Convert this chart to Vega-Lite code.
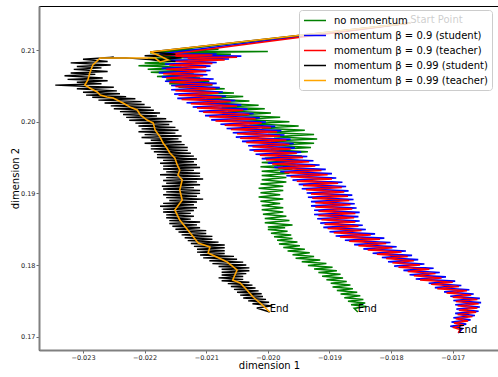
{
"$schema": "https://vega.github.io/schema/vega-lite/v6.json",
"width": 460, "height": 344,
"autosize": {"type": "none"},
"padding": {"left": 39, "top": 6, "right": 0, "bottom": 27},
"config": {
 "font": "DejaVu Sans",
 "view": {"stroke": "#000000", "strokeWidth": 1},
 "axis": {"domainColor": "#808080", "domainWidth": 2, "tickColor": "#444444", "tickSize": 3, "tickWidth": 0.8, "labelFontSize": 6.5, "labelColor": "#222222", "grid": false, "titleFontSize": 10, "titleFontWeight": "normal", "titleColor": "#000000", "labelFont": "DejaVu Sans", "titleFont": "DejaVu Sans"}
},
"datasets": {
 "lines": [
{"s":"a","x":-0.01769,"y":0.21377},{"s":"a","x":-0.02191,"y":0.20958},{"s":"a","x":-0.0208,"y":0.2101},{"s":"a","x":-0.0217,"y":0.2099},{"s":"a","x":-0.02,"y":0.2098},{"s":"a","x":-0.0215,"y":0.2096},{"s":"a","x":-0.0206,"y":0.2094},{"s":"a","x":-0.02185,"y":0.2092},{"s":"a","x":-0.0211,"y":0.209},{"s":"a","x":-0.02195,"y":0.2088},{"s":"a","x":-0.0213,"y":0.2085},{"s":"a","x":-0.022,"y":0.2082},{"s":"a","x":-0.0215,"y":0.208},{"s":"a","x":-0.0221,"y":0.2078},{"s":"a","x":-0.0214,"y":0.2076},{"s":"a","x":-0.02195,"y":0.2073},{"s":"a","x":-0.0213,"y":0.2071},{"s":"a","x":-0.0219,"y":0.2069},{"s":"a","x":-0.0212,"y":0.2066},{"s":"a","x":-0.0218,"y":0.2063},{"s":"a","x":-0.0211,"y":0.2061},{"s":"a","x":-0.02165,"y":0.2058},{"s":"a","x":-0.02095,"y":0.2056},{"s":"a","x":-0.0216,"y":0.2053},{"s":"a","x":-0.0209,"y":0.2051},{"s":"a","x":-0.02145,"y":0.2048},{"s":"a","x":-0.0207,"y":0.2046},{"s":"a","x":-0.02135,"y":0.2043},{"s":"a","x":-0.02055,"y":0.204},{"s":"a","x":-0.0212,"y":0.2038},{"s":"a","x":-0.0204,"y":0.2035},{"s":"a","x":-0.021,"y":0.2032},{"s":"a","x":-0.0203,"y":0.2029},{"s":"a","x":-0.0209,"y":0.2026},{"s":"a","x":-0.02015,"y":0.2023},{"s":"a","x":-0.02075,"y":0.202},{"s":"a","x":-0.02005,"y":0.2018},{"s":"a","x":-0.02065,"y":0.2015},{"s":"a","x":-0.01995,"y":0.2012},{"s":"a","x":-0.02055,"y":0.2009},{"s":"a","x":-0.0198,"y":0.2006},{"s":"a","x":-0.02045,"y":0.2003},{"s":"a","x":-0.01965,"y":0.2},{"s":"a","x":-0.0203,"y":0.1997},{"s":"a","x":-0.0195,"y":0.1994},{"s":"a","x":-0.0201,"y":0.1991},{"s":"a","x":-0.0194,"y":0.1988},{"s":"a","x":-0.02,"y":0.1985},{"s":"a","x":-0.01925,"y":0.1982},{"s":"a","x":-0.0199,"y":0.1979},{"s":"a","x":-0.0192,"y":0.1976},{"s":"a","x":-0.01995,"y":0.1973},{"s":"a","x":-0.01925,"y":0.197},{"s":"a","x":-0.0199,"y":0.1967},{"s":"a","x":-0.0193,"y":0.1964},{"s":"a","x":-0.01995,"y":0.1961},{"s":"a","x":-0.01935,"y":0.1958},{"s":"a","x":-0.02,"y":0.1955},{"s":"a","x":-0.01945,"y":0.1952},{"s":"a","x":-0.02005,"y":0.1949},{"s":"a","x":-0.0195,"y":0.1946},{"s":"a","x":-0.0201,"y":0.1943},{"s":"a","x":-0.01955,"y":0.194},{"s":"a","x":-0.02012,"y":0.1937},{"s":"a","x":-0.0196,"y":0.1934},{"s":"a","x":-0.0201,"y":0.1931},{"s":"a","x":-0.01965,"y":0.1928},{"s":"a","x":-0.0201,"y":0.1925},{"s":"a","x":-0.0197,"y":0.1922},{"s":"a","x":-0.0201,"y":0.1919},{"s":"a","x":-0.0197,"y":0.1916},{"s":"a","x":-0.02012,"y":0.1913},{"s":"a","x":-0.01975,"y":0.191},{"s":"a","x":-0.02015,"y":0.1907},{"s":"a","x":-0.01975,"y":0.1904},{"s":"a","x":-0.02012,"y":0.1901},{"s":"a","x":-0.0198,"y":0.1898},{"s":"a","x":-0.02015,"y":0.1895},{"s":"a","x":-0.01975,"y":0.1892},{"s":"a","x":-0.02012,"y":0.1889},{"s":"a","x":-0.0198,"y":0.1886},{"s":"a","x":-0.0201,"y":0.1883},{"s":"a","x":-0.01975,"y":0.188},{"s":"a","x":-0.0201,"y":0.1877},{"s":"a","x":-0.01975,"y":0.1874},{"s":"a","x":-0.02008,"y":0.1871},{"s":"a","x":-0.0197,"y":0.1868},{"s":"a","x":-0.02005,"y":0.1865},{"s":"a","x":-0.01965,"y":0.1862},{"s":"a","x":-0.02005,"y":0.1859},{"s":"a","x":-0.0196,"y":0.1856},{"s":"a","x":-0.02,"y":0.1853},{"s":"a","x":-0.01972,"y":0.1852},{"s":"a","x":-0.02,"y":0.18495},{"s":"a","x":-0.01968,"y":0.1847},{"s":"a","x":-0.01995,"y":0.18445},{"s":"a","x":-0.01962,"y":0.1842},{"s":"a","x":-0.0199,"y":0.18395},{"s":"a","x":-0.0196,"y":0.1837},{"s":"a","x":-0.01985,"y":0.18345},{"s":"a","x":-0.01952,"y":0.1832},{"s":"a","x":-0.01982,"y":0.18295},{"s":"a","x":-0.01948,"y":0.1827},{"s":"a","x":-0.01975,"y":0.18245},{"s":"a","x":-0.0194,"y":0.1822},{"s":"a","x":-0.01968,"y":0.18195},{"s":"a","x":-0.01932,"y":0.1817},{"s":"a","x":-0.0196,"y":0.18145},{"s":"a","x":-0.01925,"y":0.1812},{"s":"a","x":-0.01955,"y":0.18095},{"s":"a","x":-0.01915,"y":0.1807},{"s":"a","x":-0.01945,"y":0.18045},{"s":"a","x":-0.01905,"y":0.1802},{"s":"a","x":-0.01935,"y":0.17995},{"s":"a","x":-0.01895,"y":0.1797},{"s":"a","x":-0.01925,"y":0.17945},{"s":"a","x":-0.01888,"y":0.1792},{"s":"a","x":-0.01918,"y":0.17895},{"s":"a","x":-0.01882,"y":0.1787},{"s":"a","x":-0.01912,"y":0.17845},{"s":"a","x":-0.01878,"y":0.1782},{"s":"a","x":-0.01905,"y":0.17795},{"s":"a","x":-0.01872,"y":0.1777},{"s":"a","x":-0.01898,"y":0.17745},{"s":"a","x":-0.01866,"y":0.1772},{"s":"a","x":-0.01895,"y":0.17695},{"s":"a","x":-0.01862,"y":0.1767},{"s":"a","x":-0.01888,"y":0.17645},{"s":"a","x":-0.01855,"y":0.1762},{"s":"a","x":-0.01882,"y":0.17595},{"s":"a","x":-0.0185,"y":0.1757},{"s":"a","x":-0.01876,"y":0.17545},{"s":"a","x":-0.01845,"y":0.1752},{"s":"a","x":-0.0187,"y":0.17495},{"s":"a","x":-0.01842,"y":0.1747},{"s":"a","x":-0.01865,"y":0.17445},{"s":"a","x":-0.0184,"y":0.1742},{"s":"a","x":-0.0186,"y":0.17395},{"s":"a","x":-0.01854,"y":0.17345},

{"s":"b","x":-0.01769,"y":0.21377},{"s":"b","x":-0.02176,"y":0.20945},{"s":"b","x":-0.02083,"y":0.20945},{"s":"b","x":-0.02157,"y":0.20925},{"s":"b","x":-0.02043,"y":0.20915},{"s":"b","x":-0.02137,"y":0.20895},{"s":"b","x":-0.02063,"y":0.20875},{"s":"b","x":-0.02157,"y":0.20855},{"s":"b","x":-0.02083,"y":0.20825},{"s":"b","x":-0.02167,"y":0.20805},{"s":"b","x":-0.02093,"y":0.20775},{"s":"b","x":-0.02172,"y":0.20745},{"s":"b","x":-0.02093,"y":0.20715},{"s":"b","x":-0.02177,"y":0.20685},{"s":"b","x":-0.02098,"y":0.20655},{"s":"b","x":-0.02172,"y":0.20625},{"s":"b","x":-0.02088,"y":0.20595},{"s":"b","x":-0.02167,"y":0.20565},{"s":"b","x":-0.02083,"y":0.20535},{"s":"b","x":-0.02157,"y":0.20505},{"s":"b","x":-0.02078,"y":0.20475},{"s":"b","x":-0.02157,"y":0.20445},{"s":"b","x":-0.02073,"y":0.20415},{"s":"b","x":-0.02152,"y":0.20385},{"s":"b","x":-0.02068,"y":0.20355},{"s":"b","x":-0.02147,"y":0.20325},{"s":"b","x":-0.02053,"y":0.20295},{"s":"b","x":-0.02132,"y":0.20265},{"s":"b","x":-0.02043,"y":0.20235},{"s":"b","x":-0.02122,"y":0.20205},{"s":"b","x":-0.02033,"y":0.20175},{"s":"b","x":-0.02112,"y":0.20145},{"s":"b","x":-0.02023,"y":0.20115},{"s":"b","x":-0.02102,"y":0.20085},{"s":"b","x":-0.02013,"y":0.20055},{"s":"b","x":-0.02092,"y":0.20025},{"s":"b","x":-0.02003,"y":0.19995},{"s":"b","x":-0.02077,"y":0.19965},{"s":"b","x":-0.01988,"y":0.19935},{"s":"b","x":-0.02067,"y":0.19905},{"s":"b","x":-0.01978,"y":0.19875},{"s":"b","x":-0.02057,"y":0.19845},{"s":"b","x":-0.01973,"y":0.19815},{"s":"b","x":-0.02052,"y":0.19785},{"s":"b","x":-0.01963,"y":0.19755},{"s":"b","x":-0.02042,"y":0.19725},{"s":"b","x":-0.01958,"y":0.19695},{"s":"b","x":-0.02032,"y":0.19665},{"s":"b","x":-0.01956,"y":0.19635},{"s":"b","x":-0.0203,"y":0.19605},{"s":"b","x":-0.01946,"y":0.19575},{"s":"b","x":-0.0202,"y":0.19545},{"s":"b","x":-0.01936,"y":0.19515},{"s":"b","x":-0.0201,"y":0.19485},{"s":"b","x":-0.01926,"y":0.19455},{"s":"b","x":-0.02,"y":0.19425},{"s":"b","x":-0.01916,"y":0.19395},{"s":"b","x":-0.0199,"y":0.19365},{"s":"b","x":-0.01906,"y":0.19335},{"s":"b","x":-0.0198,"y":0.19305},{"s":"b","x":-0.01896,"y":0.19275},{"s":"b","x":-0.0197,"y":0.19245},{"s":"b","x":-0.01889,"y":0.19215},{"s":"b","x":-0.0196,"y":0.19185},{"s":"b","x":-0.01879,"y":0.19155},{"s":"b","x":-0.0195,"y":0.19125},{"s":"b","x":-0.01873,"y":0.19095},{"s":"b","x":-0.01945,"y":0.19065},{"s":"b","x":-0.01869,"y":0.19035},{"s":"b","x":-0.01937,"y":0.19005},{"s":"b","x":-0.01863,"y":0.18975},{"s":"b","x":-0.01935,"y":0.18945},{"s":"b","x":-0.01861,"y":0.18915},{"s":"b","x":-0.0193,"y":0.18885},{"s":"b","x":-0.01859,"y":0.18855},{"s":"b","x":-0.0193,"y":0.18825},{"s":"b","x":-0.01856,"y":0.18795},{"s":"b","x":-0.01925,"y":0.18765},{"s":"b","x":-0.01851,"y":0.18735},{"s":"b","x":-0.01925,"y":0.18705},{"s":"b","x":-0.01853,"y":0.18675},{"s":"b","x":-0.0192,"y":0.18645},{"s":"b","x":-0.01851,"y":0.18615},{"s":"b","x":-0.01915,"y":0.18585},{"s":"b","x":-0.01846,"y":0.18555},{"s":"b","x":-0.0191,"y":0.18525},{"s":"b","x":-0.01841,"y":0.18495},{"s":"b","x":-0.019,"y":0.18465},{"s":"b","x":-0.01826,"y":0.18435},{"s":"b","x":-0.0189,"y":0.18405},{"s":"b","x":-0.01811,"y":0.18375},{"s":"b","x":-0.01875,"y":0.18345},{"s":"b","x":-0.01801,"y":0.18315},{"s":"b","x":-0.0186,"y":0.18285},{"s":"b","x":-0.01791,"y":0.18255},{"s":"b","x":-0.01845,"y":0.18225},{"s":"b","x":-0.01776,"y":0.18195},{"s":"b","x":-0.0183,"y":0.18165},{"s":"b","x":-0.01766,"y":0.18135},{"s":"b","x":-0.01815,"y":0.18105},{"s":"b","x":-0.01756,"y":0.18075},{"s":"b","x":-0.01805,"y":0.18045},{"s":"b","x":-0.01746,"y":0.18015},{"s":"b","x":-0.01795,"y":0.17985},{"s":"b","x":-0.01731,"y":0.17955},{"s":"b","x":-0.0178,"y":0.17925},{"s":"b","x":-0.01721,"y":0.17895},{"s":"b","x":-0.0177,"y":0.17865},{"s":"b","x":-0.01711,"y":0.17835},{"s":"b","x":-0.0176,"y":0.17805},{"s":"b","x":-0.01696,"y":0.17775},{"s":"b","x":-0.01739,"y":0.17745},{"s":"b","x":-0.01686,"y":0.17715},{"s":"b","x":-0.01729,"y":0.17685},{"s":"b","x":-0.01673,"y":0.17655},{"s":"b","x":-0.01714,"y":0.17625},{"s":"b","x":-0.01666,"y":0.17595},{"s":"b","x":-0.01704,"y":0.17565},{"s":"b","x":-0.01656,"y":0.17535},{"s":"b","x":-0.01699,"y":0.17505},{"s":"b","x":-0.01654,"y":0.17475},{"s":"b","x":-0.01696,"y":0.17445},{"s":"b","x":-0.01656,"y":0.17415},{"s":"b","x":-0.01694,"y":0.17385},{"s":"b","x":-0.01658,"y":0.17355},{"s":"b","x":-0.01696,"y":0.17325},{"s":"b","x":-0.01664,"y":0.17295},{"s":"b","x":-0.01699,"y":0.17265},{"s":"b","x":-0.01671,"y":0.17235},{"s":"b","x":-0.01702,"y":0.17205},{"s":"b","x":-0.01678,"y":0.17175},{"s":"b","x":-0.01704,"y":0.17145},{"s":"b","x":-0.01684,"y":0.17115},{"s":"b","x":-0.01691,"y":0.17052},

{"s":"c","x":-0.01769,"y":0.21377},{"s":"c","x":-0.02169,"y":0.2093},{"s":"c","x":-0.0209,"y":0.2093},{"s":"c","x":-0.0215,"y":0.2091},{"s":"c","x":-0.0205,"y":0.209},{"s":"c","x":-0.0213,"y":0.2088},{"s":"c","x":-0.0207,"y":0.2086},{"s":"c","x":-0.0215,"y":0.2084},{"s":"c","x":-0.0209,"y":0.2081},{"s":"c","x":-0.0216,"y":0.2079},{"s":"c","x":-0.021,"y":0.2076},{"s":"c","x":-0.02165,"y":0.2073},{"s":"c","x":-0.021,"y":0.207},{"s":"c","x":-0.0217,"y":0.2067},{"s":"c","x":-0.02105,"y":0.2064},{"s":"c","x":-0.02165,"y":0.2061},{"s":"c","x":-0.02095,"y":0.2058},{"s":"c","x":-0.0216,"y":0.2055},{"s":"c","x":-0.0209,"y":0.2052},{"s":"c","x":-0.0215,"y":0.2049},{"s":"c","x":-0.02085,"y":0.2046},{"s":"c","x":-0.0215,"y":0.2043},{"s":"c","x":-0.0208,"y":0.204},{"s":"c","x":-0.02145,"y":0.2037},{"s":"c","x":-0.02075,"y":0.2034},{"s":"c","x":-0.0214,"y":0.2031},{"s":"c","x":-0.0206,"y":0.2028},{"s":"c","x":-0.02125,"y":0.2025},{"s":"c","x":-0.0205,"y":0.2022},{"s":"c","x":-0.02115,"y":0.2019},{"s":"c","x":-0.0204,"y":0.2016},{"s":"c","x":-0.02105,"y":0.2013},{"s":"c","x":-0.0203,"y":0.201},{"s":"c","x":-0.02095,"y":0.2007},{"s":"c","x":-0.0202,"y":0.2004},{"s":"c","x":-0.02085,"y":0.2001},{"s":"c","x":-0.0201,"y":0.1998},{"s":"c","x":-0.0207,"y":0.1995},{"s":"c","x":-0.01995,"y":0.1992},{"s":"c","x":-0.0206,"y":0.1989},{"s":"c","x":-0.01985,"y":0.1986},{"s":"c","x":-0.0205,"y":0.1983},{"s":"c","x":-0.0198,"y":0.198},{"s":"c","x":-0.02045,"y":0.1977},{"s":"c","x":-0.0197,"y":0.1974},{"s":"c","x":-0.02035,"y":0.1971},{"s":"c","x":-0.01965,"y":0.1968},{"s":"c","x":-0.02025,"y":0.1965},{"s":"c","x":-0.01963,"y":0.1962},{"s":"c","x":-0.02023,"y":0.1959},{"s":"c","x":-0.01953,"y":0.1956},{"s":"c","x":-0.02013,"y":0.1953},{"s":"c","x":-0.01943,"y":0.195},{"s":"c","x":-0.02003,"y":0.1947},{"s":"c","x":-0.01933,"y":0.1944},{"s":"c","x":-0.01993,"y":0.1941},{"s":"c","x":-0.01923,"y":0.1938},{"s":"c","x":-0.01983,"y":0.1935},{"s":"c","x":-0.01913,"y":0.1932},{"s":"c","x":-0.01973,"y":0.1929},{"s":"c","x":-0.01903,"y":0.1926},{"s":"c","x":-0.01963,"y":0.1923},{"s":"c","x":-0.01896,"y":0.192},{"s":"c","x":-0.01953,"y":0.1917},{"s":"c","x":-0.01886,"y":0.1914},{"s":"c","x":-0.01943,"y":0.1911},{"s":"c","x":-0.0188,"y":0.1908},{"s":"c","x":-0.01938,"y":0.1905},{"s":"c","x":-0.01876,"y":0.1902},{"s":"c","x":-0.0193,"y":0.1899},{"s":"c","x":-0.0187,"y":0.1896},{"s":"c","x":-0.01928,"y":0.1893},{"s":"c","x":-0.01868,"y":0.189},{"s":"c","x":-0.01923,"y":0.1887},{"s":"c","x":-0.01866,"y":0.1884},{"s":"c","x":-0.01923,"y":0.1881},{"s":"c","x":-0.01863,"y":0.1878},{"s":"c","x":-0.01918,"y":0.1875},{"s":"c","x":-0.01858,"y":0.1872},{"s":"c","x":-0.01918,"y":0.1869},{"s":"c","x":-0.0186,"y":0.1866},{"s":"c","x":-0.01913,"y":0.1863},{"s":"c","x":-0.01858,"y":0.186},{"s":"c","x":-0.01908,"y":0.1857},{"s":"c","x":-0.01853,"y":0.1854},{"s":"c","x":-0.01903,"y":0.1851},{"s":"c","x":-0.01848,"y":0.1848},{"s":"c","x":-0.01893,"y":0.1845},{"s":"c","x":-0.01833,"y":0.1842},{"s":"c","x":-0.01883,"y":0.1839},{"s":"c","x":-0.01818,"y":0.1836},{"s":"c","x":-0.01868,"y":0.1833},{"s":"c","x":-0.01808,"y":0.183},{"s":"c","x":-0.01853,"y":0.1827},{"s":"c","x":-0.01798,"y":0.1824},{"s":"c","x":-0.01838,"y":0.1821},{"s":"c","x":-0.01783,"y":0.1818},{"s":"c","x":-0.01823,"y":0.1815},{"s":"c","x":-0.01773,"y":0.1812},{"s":"c","x":-0.01808,"y":0.1809},{"s":"c","x":-0.01763,"y":0.1806},{"s":"c","x":-0.01798,"y":0.1803},{"s":"c","x":-0.01753,"y":0.18},{"s":"c","x":-0.01788,"y":0.1797},{"s":"c","x":-0.01738,"y":0.1794},{"s":"c","x":-0.01773,"y":0.1791},{"s":"c","x":-0.01728,"y":0.1788},{"s":"c","x":-0.01763,"y":0.1785},{"s":"c","x":-0.01718,"y":0.1782},{"s":"c","x":-0.01753,"y":0.1779},{"s":"c","x":-0.017,"y":0.1776},{"s":"c","x":-0.01735,"y":0.1773},{"s":"c","x":-0.0169,"y":0.177},{"s":"c","x":-0.01725,"y":0.1767},{"s":"c","x":-0.01677,"y":0.1764},{"s":"c","x":-0.0171,"y":0.1761},{"s":"c","x":-0.0167,"y":0.1758},{"s":"c","x":-0.017,"y":0.1755},{"s":"c","x":-0.0166,"y":0.1752},{"s":"c","x":-0.01695,"y":0.1749},{"s":"c","x":-0.01658,"y":0.1746},{"s":"c","x":-0.01692,"y":0.1743},{"s":"c","x":-0.0166,"y":0.174},{"s":"c","x":-0.0169,"y":0.1737},{"s":"c","x":-0.01662,"y":0.1734},{"s":"c","x":-0.01692,"y":0.1731},{"s":"c","x":-0.01668,"y":0.1728},{"s":"c","x":-0.01695,"y":0.1725},{"s":"c","x":-0.01675,"y":0.1722},{"s":"c","x":-0.01698,"y":0.1719},{"s":"c","x":-0.01682,"y":0.1716},{"s":"c","x":-0.017,"y":0.1713},{"s":"c","x":-0.01688,"y":0.171},{"s":"c","x":-0.01691,"y":0.17052},

{"s":"d","x":-0.01769,"y":0.21377},{"s":"d","x":-0.02191,"y":0.20972},{"s":"d","x":-0.0215,"y":0.2094},{"s":"d","x":-0.022,"y":0.2092},{"s":"d","x":-0.0214,"y":0.2089},{"s":"d","x":-0.0219,"y":0.2086},{"s":"d","x":-0.0215,"y":0.2084},{"s":"d","x":-0.0223,"y":0.2089},{"s":"d","x":-0.02272,"y":0.20888},{"s":"d","x":-0.0225,"y":0.209},{"s":"d","x":-0.023,"y":0.2087},{"s":"d","x":-0.0226,"y":0.2084},{"s":"d","x":-0.0232,"y":0.2082},{"s":"d","x":-0.02255,"y":0.2079},{"s":"d","x":-0.0231,"y":0.2077},{"s":"d","x":-0.0227,"y":0.2075},{"s":"d","x":-0.02315,"y":0.2073},{"s":"d","x":-0.0226,"y":0.207},{"s":"d","x":-0.0232,"y":0.2068},{"s":"d","x":-0.0228,"y":0.2066},{"s":"d","x":-0.0233,"y":0.2064},{"s":"d","x":-0.02268,"y":0.2061},{"s":"d","x":-0.02325,"y":0.2059},{"s":"d","x":-0.0226,"y":0.2057},{"s":"d","x":-0.0231,"y":0.2055},{"s":"d","x":-0.0227,"y":0.2053},{"s":"d","x":-0.02345,"y":0.2051},{"s":"d","x":-0.0229,"y":0.2049},{"s":"d","x":-0.0225,"y":0.2048},{"s":"d","x":-0.0231,"y":0.2046},{"s":"d","x":-0.02245,"y":0.2043},{"s":"d","x":-0.023,"y":0.2041},{"s":"d","x":-0.0224,"y":0.2039},{"s":"d","x":-0.02295,"y":0.2037},{"s":"d","x":-0.0223,"y":0.2035},{"s":"d","x":-0.02285,"y":0.2034},{"s":"d","x":-0.02215,"y":0.2032},{"s":"d","x":-0.02275,"y":0.203},{"s":"d","x":-0.02205,"y":0.2028},{"s":"d","x":-0.02265,"y":0.2026},{"s":"d","x":-0.022,"y":0.2024},{"s":"d","x":-0.02255,"y":0.2022},{"s":"d","x":-0.0219,"y":0.202},{"s":"d","x":-0.0225,"y":0.2018},{"s":"d","x":-0.02185,"y":0.2016},{"s":"d","x":-0.0224,"y":0.2014},{"s":"d","x":-0.02175,"y":0.2012},{"s":"d","x":-0.02235,"y":0.201},{"s":"d","x":-0.0218,"y":0.2008},{"s":"d","x":-0.0223,"y":0.2006},{"s":"d","x":-0.02165,"y":0.2004},{"s":"d","x":-0.02225,"y":0.2002},{"s":"d","x":-0.02155,"y":0.2},{"s":"d","x":-0.02215,"y":0.1998},{"s":"d","x":-0.0216,"y":0.1996},{"s":"d","x":-0.0221,"y":0.1994},{"s":"d","x":-0.0215,"y":0.1992},{"s":"d","x":-0.02205,"y":0.199},{"s":"d","x":-0.02145,"y":0.1988},{"s":"d","x":-0.0221,"y":0.1986},{"s":"d","x":-0.0215,"y":0.1984},{"s":"d","x":-0.022,"y":0.1982},{"s":"d","x":-0.0214,"y":0.198},{"s":"d","x":-0.02205,"y":0.1978},{"s":"d","x":-0.02145,"y":0.1976},{"s":"d","x":-0.0219,"y":0.1974},{"s":"d","x":-0.0214,"y":0.1972},{"s":"d","x":-0.022,"y":0.197},{"s":"d","x":-0.02135,"y":0.1968},{"s":"d","x":-0.0219,"y":0.1966},{"s":"d","x":-0.0213,"y":0.1964},{"s":"d","x":-0.0219,"y":0.1962},{"s":"d","x":-0.0213,"y":0.196},{"s":"d","x":-0.02185,"y":0.1958},{"s":"d","x":-0.02125,"y":0.1956},{"s":"d","x":-0.0218,"y":0.1954},{"s":"d","x":-0.0212,"y":0.1952},{"s":"d","x":-0.0218,"y":0.195},{"s":"d","x":-0.02115,"y":0.1948},{"s":"d","x":-0.0217,"y":0.1946},{"s":"d","x":-0.0212,"y":0.1944},{"s":"d","x":-0.02175,"y":0.1942},{"s":"d","x":-0.02115,"y":0.194},{"s":"d","x":-0.0217,"y":0.1938},{"s":"d","x":-0.0211,"y":0.1936},{"s":"d","x":-0.0217,"y":0.1934},{"s":"d","x":-0.0212,"y":0.1932},{"s":"d","x":-0.02165,"y":0.193},{"s":"d","x":-0.0211,"y":0.1928},{"s":"d","x":-0.02175,"y":0.1926},{"s":"d","x":-0.0211,"y":0.1924},{"s":"d","x":-0.02165,"y":0.1922},{"s":"d","x":-0.02105,"y":0.192},{"s":"d","x":-0.0217,"y":0.1918},{"s":"d","x":-0.02115,"y":0.1916},{"s":"d","x":-0.02165,"y":0.1914},{"s":"d","x":-0.0211,"y":0.1912},{"s":"d","x":-0.02172,"y":0.191},{"s":"d","x":-0.0212,"y":0.1908},{"s":"d","x":-0.0217,"y":0.1906},{"s":"d","x":-0.0211,"y":0.1904},{"s":"d","x":-0.02165,"y":0.1902},{"s":"d","x":-0.0211,"y":0.19},{"s":"d","x":-0.0217,"y":0.1898},{"s":"d","x":-0.02115,"y":0.1896},{"s":"d","x":-0.02165,"y":0.1894},{"s":"d","x":-0.02105,"y":0.1892},{"s":"d","x":-0.0216,"y":0.189},{"s":"d","x":-0.02115,"y":0.1888},{"s":"d","x":-0.0217,"y":0.1886},{"s":"d","x":-0.0212,"y":0.1884},{"s":"d","x":-0.02175,"y":0.1882},{"s":"d","x":-0.02115,"y":0.188},{"s":"d","x":-0.0217,"y":0.1878},{"s":"d","x":-0.0212,"y":0.1876},{"s":"d","x":-0.0217,"y":0.1874},{"s":"d","x":-0.02125,"y":0.1872},{"s":"d","x":-0.02165,"y":0.187},{"s":"d","x":-0.0212,"y":0.1868},{"s":"d","x":-0.02165,"y":0.1866},{"s":"d","x":-0.02125,"y":0.1864},{"s":"d","x":-0.0216,"y":0.1862},{"s":"d","x":-0.0211,"y":0.186},{"s":"d","x":-0.0216,"y":0.1858},{"s":"d","x":-0.02115,"y":0.1856},{"s":"d","x":-0.02155,"y":0.1854},{"s":"d","x":-0.0211,"y":0.1852},{"s":"d","x":-0.0215,"y":0.185},{"s":"d","x":-0.021,"y":0.1848},{"s":"d","x":-0.02145,"y":0.1846},{"s":"d","x":-0.021,"y":0.1844},{"s":"d","x":-0.0214,"y":0.1842},{"s":"d","x":-0.0209,"y":0.184},{"s":"d","x":-0.02135,"y":0.1838},{"s":"d","x":-0.0209,"y":0.1836},{"s":"d","x":-0.0213,"y":0.1834},{"s":"d","x":-0.0208,"y":0.1832},{"s":"d","x":-0.02125,"y":0.183},{"s":"d","x":-0.0207,"y":0.1828},{"s":"d","x":-0.0212,"y":0.1826},{"s":"d","x":-0.0207,"y":0.1824},{"s":"d","x":-0.02115,"y":0.1822},{"s":"d","x":-0.0207,"y":0.182},{"s":"d","x":-0.02115,"y":0.1818},{"s":"d","x":-0.0207,"y":0.1816},{"s":"d","x":-0.0211,"y":0.1814},{"s":"d","x":-0.02055,"y":0.1812},{"s":"d","x":-0.02105,"y":0.181},{"s":"d","x":-0.0205,"y":0.1808},{"s":"d","x":-0.02095,"y":0.1806},{"s":"d","x":-0.0204,"y":0.1804},{"s":"d","x":-0.0209,"y":0.1802},{"s":"d","x":-0.02035,"y":0.18},{"s":"d","x":-0.0208,"y":0.1798},{"s":"d","x":-0.0203,"y":0.1796},{"s":"d","x":-0.02075,"y":0.1794},{"s":"d","x":-0.0203,"y":0.1792},{"s":"d","x":-0.02075,"y":0.179},{"s":"d","x":-0.02035,"y":0.1788},{"s":"d","x":-0.02075,"y":0.1786},{"s":"d","x":-0.0204,"y":0.1784},{"s":"d","x":-0.0208,"y":0.1782},{"s":"d","x":-0.0204,"y":0.178},{"s":"d","x":-0.02075,"y":0.1778},{"s":"d","x":-0.0203,"y":0.1776},{"s":"d","x":-0.02065,"y":0.1774},{"s":"d","x":-0.02025,"y":0.1772},{"s":"d","x":-0.0206,"y":0.177},{"s":"d","x":-0.0202,"y":0.1768},{"s":"d","x":-0.02055,"y":0.1766},{"s":"d","x":-0.02015,"y":0.1764},{"s":"d","x":-0.0205,"y":0.1762},{"s":"d","x":-0.0201,"y":0.176},{"s":"d","x":-0.02045,"y":0.1758},{"s":"d","x":-0.02008,"y":0.1756},{"s":"d","x":-0.0204,"y":0.1754},{"s":"d","x":-0.02003,"y":0.1752},{"s":"d","x":-0.02032,"y":0.175},{"s":"d","x":-0.01998,"y":0.1748},{"s":"d","x":-0.02025,"y":0.1746},{"s":"d","x":-0.01993,"y":0.1743},{"s":"d","x":-0.02018,"y":0.174},{"s":"d","x":-0.01997,"y":0.17345},

{"s":"e","x":-0.01769,"y":0.21377},{"s":"e","x":-0.02191,"y":0.20972},{"s":"e","x":-0.02175,"y":0.20916},{"s":"e","x":-0.02162,"y":0.2086},{"s":"e","x":-0.02175,"y":0.20833},{"s":"e","x":-0.02183,"y":0.20888},{"s":"e","x":-0.02272,"y":0.20888},{"s":"e","x":-0.02284,"y":0.20791},{"s":"e","x":-0.02289,"y":0.20679},{"s":"e","x":-0.02292,"y":0.20581},{"s":"e","x":-0.02297,"y":0.20512},{"s":"e","x":-0.02289,"y":0.2047},{"s":"e","x":-0.02277,"y":0.20414},{"s":"e","x":-0.02272,"y":0.20372},{"s":"e","x":-0.02261,"y":0.20344},{"s":"e","x":-0.02251,"y":0.2033},{"s":"e","x":-0.02235,"y":0.20261},{"s":"e","x":-0.02224,"y":0.20205},{"s":"e","x":-0.02212,"y":0.20163},{"s":"e","x":-0.02207,"y":0.20093},{"s":"e","x":-0.02196,"y":0.20023},{"s":"e","x":-0.02186,"y":0.19982},{"s":"e","x":-0.02183,"y":0.19884},{"s":"e","x":-0.02175,"y":0.19786},{"s":"e","x":-0.0217,"y":0.19702},{"s":"e","x":-0.02164,"y":0.19633},{"s":"e","x":-0.02159,"y":0.19563},{"s":"e","x":-0.02151,"y":0.19493},{"s":"e","x":-0.02147,"y":0.19396},{"s":"e","x":-0.02143,"y":0.19326},{"s":"e","x":-0.02146,"y":0.19256},{"s":"e","x":-0.02139,"y":0.19186},{"s":"e","x":-0.02143,"y":0.19047},{"s":"e","x":-0.02139,"y":0.18907},{"s":"e","x":-0.02151,"y":0.18768},{"s":"e","x":-0.02143,"y":0.18628},{"s":"e","x":-0.02126,"y":0.18447},{"s":"e","x":-0.02113,"y":0.18307},{"s":"e","x":-0.02094,"y":0.18251},{"s":"e","x":-0.02097,"y":0.18168},{"s":"e","x":-0.02083,"y":0.18112},{"s":"e","x":-0.02066,"y":0.18042},{"s":"e","x":-0.0205,"y":0.17931},{"s":"e","x":-0.02057,"y":0.17791},{"s":"e","x":-0.02045,"y":0.17749},{"s":"e","x":-0.02034,"y":0.17652},{"s":"e","x":-0.02024,"y":0.17554},{"s":"e","x":-0.0201,"y":0.1745},{"s":"e","x":-0.01997,"y":0.17345}
 ],
 "labels": [
  {"t": "Start Point", "x": -0.01769, "y": 0.21377},
  {"t": "End", "x": -0.01997, "y": 0.17345},
  {"t": "End", "x": -0.01854, "y": 0.17345},
  {"t": "End", "x": -0.01691, "y": 0.17052}
 ]
},
"encoding": {
 "x": {"field": "x", "type": "quantitative", "scale": {"domain": [-0.023714, -0.016249], "nice": false, "zero": false}, "axis": {"values": [-0.023, -0.022, -0.021, -0.02, -0.019, -0.018, -0.017], "format": ".3f", "labelPadding": 1, "titlePadding": 0, "title": "dimension 1"}},
 "y": {"field": "y", "type": "quantitative", "scale": {"domain": [0.168144, 0.216139], "nice": false, "zero": false}, "axis": {"values": [0.17, 0.18, 0.19, 0.2, 0.21], "format": ".2f", "labelPadding": 1, "titlePadding": 0, "title": "dimension 2"}}
},
"layer": [
 {"data": {"name": "lines"}, "transform": [{"filter": {"field": "s", "equal": "a"}}, {"window": [{"op": "row_number", "as": "o"}]}], "mark": {"type": "line", "strokeWidth": 1.5}, "encoding": {"order": {"field": "o", "type": "quantitative"}, "color": {"field": "s", "type": "nominal", "scale": {"domain": ["a", "b", "c", "d", "e"], "range": ["#008000", "#0000ff", "#ff0000", "#000000", "#ffa500"]}, "legend": {"orient": "none", "legendX": 260, "legendY": 4, "title": null, "fillColor": "rgba(255,255,255,0.8)", "strokeColor": "#cccccc", "cornerRadius": 3, "padding": 4, "labelFontSize": 10, "labelFont": "DejaVu Sans", "labelColor": "#000000", "labelLimit": 300, "symbolType": "M-1,0H3", "symbolSize": 121, "symbolStrokeWidth": 1.5, "labelOffset": 18, "rowPadding": 3, "labelExpr": "{'a':'no momentum','b':'momentum β = 0.9 (student)','c':'momentum β = 0.9 (teacher)','d':'momentum β = 0.99 (student)','e':'momentum β = 0.99 (teacher)'}[datum.value]"}}}},
 {"data": {"name": "lines"}, "transform": [{"filter": {"field": "s", "equal": "b"}}, {"window": [{"op": "row_number", "as": "o"}]}], "mark": {"type": "line", "strokeWidth": 1.6}, "encoding": {"order": {"field": "o", "type": "quantitative"}, "color": {"field": "s", "type": "nominal"}}},
 {"data": {"name": "lines"}, "transform": [{"filter": {"field": "s", "equal": "c"}}, {"window": [{"op": "row_number", "as": "o"}]}], "mark": {"type": "line", "strokeWidth": 1.5}, "encoding": {"order": {"field": "o", "type": "quantitative"}, "color": {"field": "s", "type": "nominal"}}},
 {"data": {"name": "lines"}, "transform": [{"filter": {"field": "s", "equal": "d"}}, {"window": [{"op": "row_number", "as": "o"}]}], "mark": {"type": "line", "strokeWidth": 1.4}, "encoding": {"order": {"field": "o", "type": "quantitative"}, "color": {"field": "s", "type": "nominal"}}},
 {"data": {"name": "lines"}, "transform": [{"filter": {"field": "s", "equal": "e"}}, {"window": [{"op": "row_number", "as": "o"}]}], "mark": {"type": "line", "strokeWidth": 1.6}, "encoding": {"order": {"field": "o", "type": "quantitative"}, "color": {"field": "s", "type": "nominal"}}},
 {"data": {"name": "labels"}, "mark": {"type": "text", "align": "left", "baseline": "alphabetic", "fontSize": 10, "font": "DejaVu Sans", "color": "#000000"}, "encoding": {"text": {"field": "t"}}}
]
}
